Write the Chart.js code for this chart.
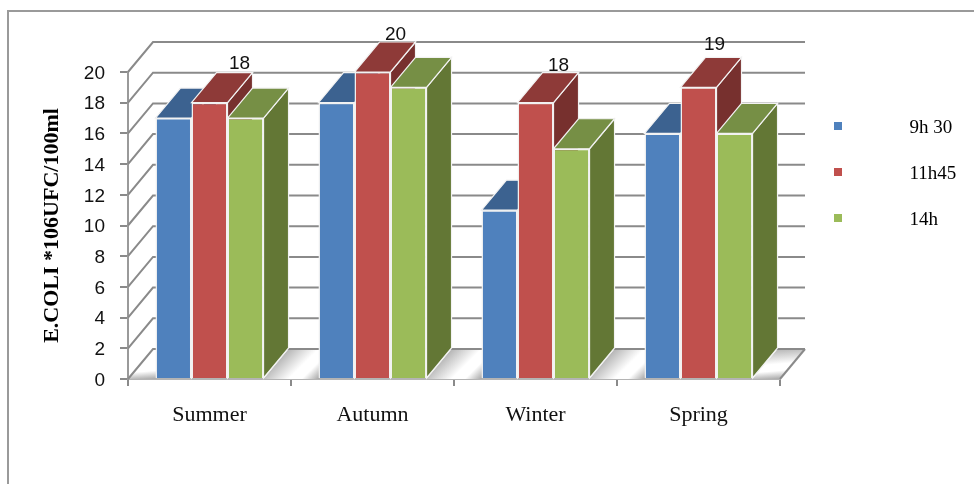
<!DOCTYPE html>
<html><head><meta charset="utf-8">
<style>html,body{margin:0;padding:0;background:#fff}canvas{display:block}</style>
<script src="https://cdn.jsdelivr.net/npm/chart.js@4"></script>
</head><body><canvas id="c" width="974" height="484"></canvas>
<script>
const categories = ['Summer','Autumn','Winter','Spring'];
const series930 = [17,18,11,16];
const series1145 = [18,20,18,19];
const series14 = [17,19,15,16];
const seriesNames = ['9h 30','11h45','14h'];
const labelledValues = [18,20,18,19];
const frontColors = ['#4F81BD','#C0504D','#9BBB59'];
const topColors = ['#3C6290','#8E3A38','#768F45'];
const sideColors = ['#335480','#77302E','#637735'];
const labelNudgeX = [30,23,23,16];
const labelNudgeY = [-39,-37,-37,-43];
const DX = 25, DY = 30, GRID = '#8a8a8a';

function poly(ctx, pts, fill, stroke){
  ctx.beginPath();
  pts.forEach((p,i)=> i?ctx.lineTo(p[0],p[1]):ctx.moveTo(p[0],p[1]));
  ctx.closePath();
  ctx.fillStyle = fill; ctx.fill();
  if(stroke){ctx.strokeStyle = stroke; ctx.lineWidth = 1.2; ctx.stroke();}
}
const walls3d = {
  id:'walls3d',
  afterLayout(chart){
    const l = chart.legend; const w = l.width, h = l.height;
    l.left = 823; l.top = 92; l.right = l.left + w; l.bottom = l.top + h;
  },
  beforeDatasetsDraw(chart){
    const {ctx, scales:{x,y}} = chart;
    const y0 = y.getPixelForValue(0);
    const L = x.left, R = x.right;
    ctx.save();
    // floor patches
    const m0 = chart.getDatasetMeta(0).data, m2 = chart.getDatasetMeta(2).data;
    const edges = [L];
    m0.forEach((b,i)=>{edges.push(b.x-b.width/2); edges.push(m2[i].x+m2[i].width/2);});
    edges.push(R);
    for(let i=0;i<edges.length;i+=2){
      const a=edges[i], b=edges[i+1];
      const g=ctx.createLinearGradient(a+DX,y0-DY,b,y0);
      g.addColorStop(0,i===0?'#ffffff':'#b5b5b5');g.addColorStop(.5,'#ffffff');g.addColorStop(.72,'#ffffff');g.addColorStop(1,'#a8a8a8');
      poly(ctx,[[a,y0],[b,y0],[b+DX,y0-DY],[a+DX,y0-DY]],g);
    }
    // back wall and left wall lines
    ctx.strokeStyle = GRID; ctx.lineWidth = 2;
    y.ticks.forEach(t=>{
      const py = y.getPixelForValue(t.value);
      ctx.beginPath();
      ctx.moveTo(L,py); ctx.lineTo(L+DX,py-DY); ctx.lineTo(R+DX,py-DY);
      ctx.stroke();
    });
    ctx.beginPath(); ctx.moveTo(R,y0); ctx.lineTo(R+DX,y0-DY); ctx.stroke();
    // bar tops and sides
    categories.forEach((_,ci)=>{
      [0,1,2].forEach(di=>{
        const b = chart.getDatasetMeta(di).data[ci];
        const l=b.x-b.width/2, r=b.x+b.width/2, t=b.y, bt=b.base;
        poly(ctx,[[r,t],[r+DX,t-DY],[r+DX,bt-DY],[r,bt]],sideColors[di],'#f2f2f2');
        poly(ctx,[[l,t],[r,t],[r+DX,t-DY],[l+DX,t-DY]],topColors[di],'#f2f2f2');
      });
    });
    ctx.restore();
  },
  afterDraw(chart){
    const {ctx} = chart;
    ctx.save();
    // outer frame
    ctx.strokeStyle='#9a9a9a'; ctx.lineWidth=2;
    ctx.beginPath(); ctx.moveTo(8,484); ctx.lineTo(8,11); ctx.lineTo(974,11); ctx.stroke();
    // value labels of the middle series
    ctx.fillStyle='#111'; ctx.font='19px "Liberation Sans"'; ctx.textAlign='center'; ctx.textBaseline='middle';
    chart.getDatasetMeta(1).data.forEach((b,i)=>{
      ctx.fillText(String(labelledValues[i]), b.x+labelNudgeX[i], b.y+labelNudgeY[i]);
    });
    // legend keys
    chart.legend.legendHitBoxes.forEach((h,i)=>{
      ctx.fillStyle=frontColors[i];
      ctx.fillRect(chart.legend.left+11, 122+i*46, 8, 8);
    });
    ctx.restore();
  }
};
const allSeries = [series930,series1145,series14];
new Chart(document.getElementById('c'),{
  type:'bar',
  data:{labels:categories,datasets:allSeries.map((d,i)=>({
    label:seriesNames[i],data:d,backgroundColor:frontColors[i],
    borderColor:'#f2f2f2',borderWidth:1.5,
    barPercentage:1,categoryPercentage:.663
  }))},
  options:{
    responsive:false,animation:false,devicePixelRatio:1,
    layout:{padding:{left:0,top:72,right:194,bottom:0}},
    plugins:{
      tooltip:{enabled:false},
      legend:{position:'chartArea',align:'start',
        labels:{boxWidth:50,boxHeight:8,padding:27,color:'#111',
          font:{family:'"Liberation Serif"',size:19},
          generateLabels(ch){return ch.data.datasets.map((d,i)=>({text:d.label,fillStyle:'rgba(0,0,0,0)',strokeStyle:'rgba(0,0,0,0)',lineWidth:0,datasetIndex:i}));}
        }
      }
    },
    scales:{
      x:{grid:{offset:true,drawOnChartArea:false,tickLength:7,color:'#8a8a8a',lineWidth:2},
         border:{color:'#b4b4b4',width:2},
         ticks:{color:'#111',padding:16,maxRotation:0,font:{family:'"Liberation Serif"',size:22}},
         afterFit(s){s.height=105;}},
      y:{min:0,max:20,
         grid:{drawOnChartArea:false,tickLength:8,color:'#8a8a8a',lineWidth:2},
         border:{color:'#9a9a9a',width:2},
         ticks:{stepSize:2,color:'#111',padding:15,labelOffset:1.5,font:{family:'"Liberation Sans"',size:19}},
         title:{display:true,text:'E.COLI *106UFC/100ml',color:'#000',padding:{top:39,bottom:0},
           font:{family:'"Liberation Serif"',size:22,weight:'bold'}},
         afterFit(s){s.width=128;}}
    }
  },
  plugins:[walls3d]
});
</script></body></html>
